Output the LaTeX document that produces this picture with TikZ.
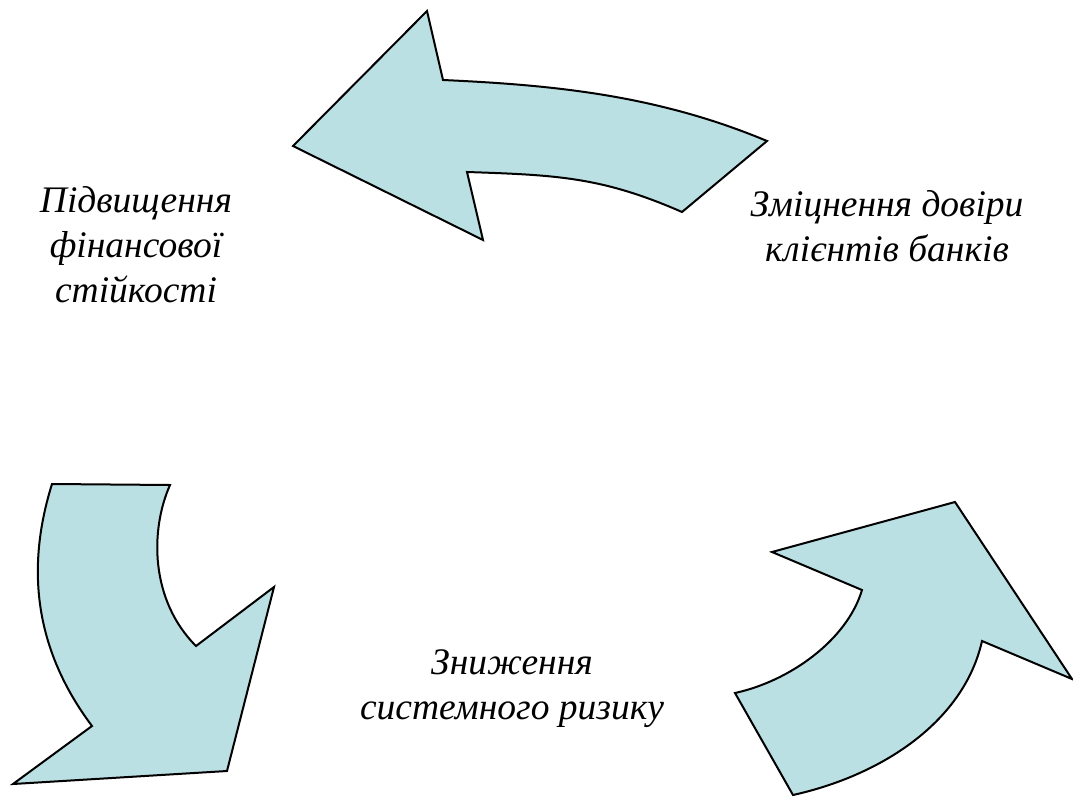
\documentclass[tikz,border=0pt]{standalone}
\usepackage{fontspec}
\setmainfont{Liberation Serif}
\usetikzlibrary{positioning}
\definecolor{StrilkaBlakyt}{HTML}{BBE0E3}

\begin{document}
\begin{tikzpicture}[x=1pt,y=-1pt,
  strilka/.style={fill=StrilkaBlakyt,draw=black,line width=2pt,line join=miter},
  napys/.style={align=center,inner sep=0pt,font=\itshape\fontsize{37.5}{45}\selectfont}]
\useasboundingbox (0,0) rectangle (1073,797);
% top arrow, pointing left
\draw[strilka] (767,141) .. controls (657,95) and (553,85) .. (443,80)
  -- (427,11) -- (293,146) -- (483,240) -- (467,172)
  .. controls (557,175) and (602,177) .. (682,212) -- cycle;
% bottom left arrow, pointing down
\draw[strilka] (52,484) -- (170,485)
  .. controls (150,530) and (150,600) .. (196,646)
  -- (274,587) -- (227,771) -- (13,784) -- (92,726)
  .. controls (32,646) and (27,564) .. (52,484) -- cycle;
% bottom right arrow, pointing up
\draw[strilka] (793,795) -- (735,693)
  .. controls (790,681) and (847,640) .. (862,590)
  -- (772,552) -- (955,502) -- (1072,679) -- (982,641)
  .. controls (964,721) and (883,775) .. (793,795) -- cycle;
\node[napys] (stiikist) at (136,245) {Підвищення\\фінансової\\стійкості};
\node[napys] (dovira) at (887,226) {Зміцнення довіри\\клієнтів банків};
\node[napys] (ryzyk) at (512,689) {Зниження\\системного ризику};
\end{tikzpicture}
\end{document}
